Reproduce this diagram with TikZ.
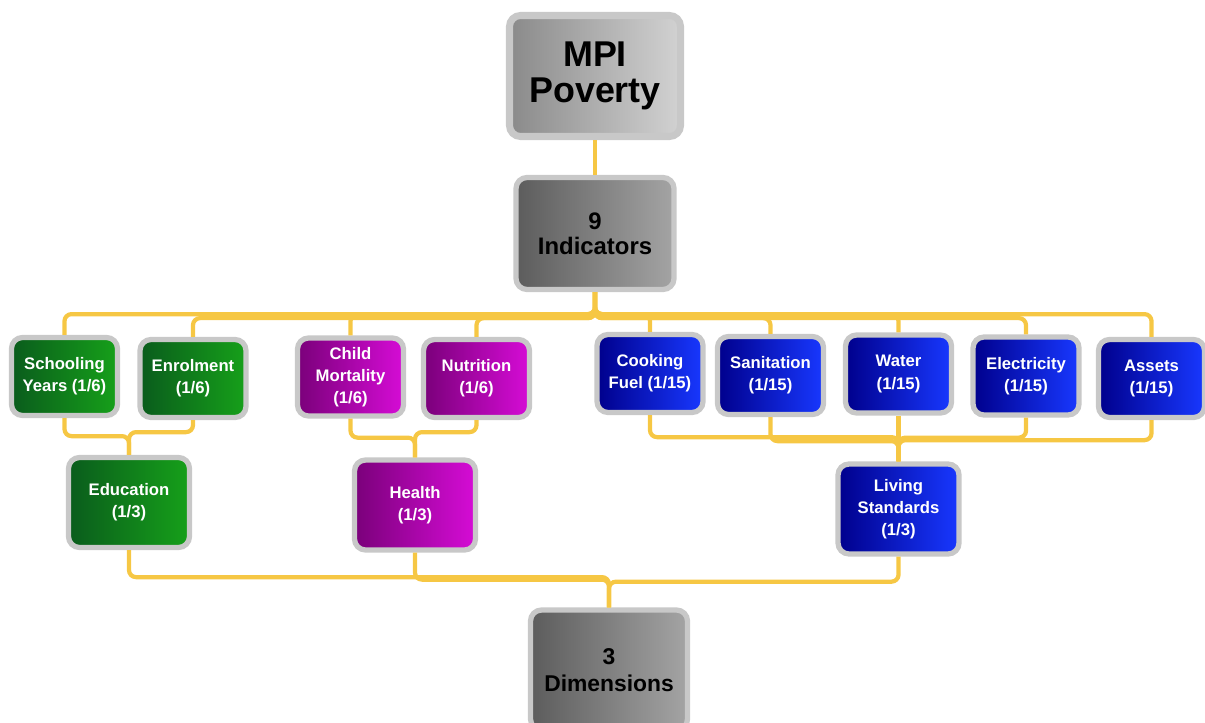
\documentclass[tikz,border=0pt]{standalone}
\usepackage{fontspec}
\setmainfont{Liberation Sans}
\usetikzlibrary{positioning}
\definecolor{rim}{HTML}{C8C8C8}
\definecolor{wire}{HTML}{F6C744}
\definecolor{eduL}{HTML}{0A5C1C}
\definecolor{eduR}{HTML}{16A01A}
\definecolor{heaL}{HTML}{7A007A}
\definecolor{heaR}{HTML}{D60CD6}
\definecolor{livL}{HTML}{00008C}
\definecolor{livR}{HTML}{1838FF}
\definecolor{topL}{HTML}{8A8A8A}
\definecolor{topR}{HTML}{D2D2D2}
\definecolor{midL}{HTML}{5C5C5C}
\definecolor{midR}{HTML}{A4A4A4}
\tikzset{
    box/.style={draw=rim, line width=1.5pt, rounded corners=0.11cm, align=center,
        inner sep=1pt, minimum width=1.06cm, minimum height=0.78cm, text=white,
        font=\fontsize{4.75}{6.3}\selectfont\bfseries},
    bigbox/.style={box, minimum width=1.21cm, minimum height=0.9cm},
    edubox/.style={left color=eduL, right color=eduR},
    heabox/.style={left color=heaL, right color=heaR},
    livbox/.style={left color=livL, right color=livR},
    greybox/.style={box, text=black, left color=midL, right color=midR,
        font=\fontsize{6.8}{7.2}\selectfont\bfseries},
    link/.style={draw=wire, line width=1.2pt, rounded corners=0.07cm}
}
\begin{document}
\begin{tikzpicture}[]
    \useasboundingbox (0,0) rectangle (12.05,-7.22);
    % top of the tree
    \node[greybox, left color=topL, right color=topR, line width=2pt, minimum width=1.71cm, minimum height=1.21cm,
        font=\fontsize{10.2}{10.2}\selectfont\bfseries] at (5.95,-0.76) (mpi) {MPI\\Poverty};
    \node[greybox, minimum width=1.58cm, minimum height=1.12cm] at (5.95,-2.335) (ind) {9\\Indicators};
    % indicators
    \node[box, edubox] at (0.645,-3.765) (school) {Schooling\\Years (1/6)};
    \node[box, edubox] at (1.93,-3.785) (enrol) {Enrolment\\(1/6)};
    \node[box, heabox] at (3.505,-3.77) (child) {Child\\Mortality\\(1/6)};
    \node[box, heabox] at (4.765,-3.785) (nutri) {Nutrition\\(1/6)};
    \node[box, livbox] at (6.5,-3.735) (cook) {Cooking\\Fuel (1/15)};
    \node[box, livbox] at (7.705,-3.755) (sanit) {Sanitation\\(1/15)};
    \node[box, livbox] at (8.985,-3.74) (water) {Water\\(1/15)};
    \node[box, livbox] at (10.26,-3.76) (elec) {Electricity\\(1/15)};
    \node[box, livbox] at (11.515,-3.785) (assets) {Assets\\(1/15)};
    % dimensions
    \node[bigbox, edubox] at (1.29,-5.025) (educ) {Education\\(1/3)};
    \node[bigbox, heabox] at (4.15,-5.05) (health) {Health\\(1/3)};
    \node[bigbox, livbox] at (8.985,-5.09) (living) {Living\\Standards\\(1/3)};
    \node[greybox, minimum width=1.57cm, minimum height=1.2cm,
        font=\fontsize{6.5}{7.6}\selectfont\bfseries] at (6.09,-6.7) (dims) {3\\Dimensions};

    \draw[link] (mpi) -- (ind);
    \draw[link] (ind.south) -- ++(0,-0.22) -| (school.north);
    \draw[link] (ind.south) -- ++(0,-0.26) -| (enrol.north);
    \draw[link] (ind.south) -- ++(0,-0.22) -| (child.north);
    \draw[link] (ind.south) -- ++(0,-0.26) -| (nutri.north);
    \draw[link] (ind.south) -- ++(0,-0.22) -| (cook.north);
    \draw[link] (ind.south) -- ++(0,-0.26) -| (sanit.north);
    \draw[link] (ind.south) -- ++(0,-0.22) -| (water.north);
    \draw[link] (ind.south) -- ++(0,-0.26) -| (elec.north);
    \draw[link] (ind.south) -- ++(0,-0.22) -| (assets.north);

    \draw[link] (school.south) -- ++(0,-0.18) -| (educ.north);
    \draw[link] (enrol.south) -- ++(0,-0.12) -| (educ.north);
    \draw[link] (child.south) -- ++(0,-0.19) -| (health.north);
    \draw[link] (nutri.south) -- ++(0,-0.12) -| (health.north);
    \draw[link] (cook.south) -- ++(0,-0.22) -| (living.north);
    \draw[link] (sanit.south) -- ++(0,-0.24) -| (living.north);
    \draw[link] (water.south) -- (living.north);
    \draw[link] (elec.south) -- ++(0,-0.2) -| (living.north);
    \draw[link] (assets.south) -- ++(0,-0.2) -| (living.north);

    \draw[link] (educ.south) -- ++(0,-0.27) -| (dims.north);
    \draw[link] (health.south) -- ++(0,-0.27) -| (dims.north);
    \draw[link] (living.south) -- ++(0,-0.25) -| (dims.north);
\end{tikzpicture}
\end{document}
